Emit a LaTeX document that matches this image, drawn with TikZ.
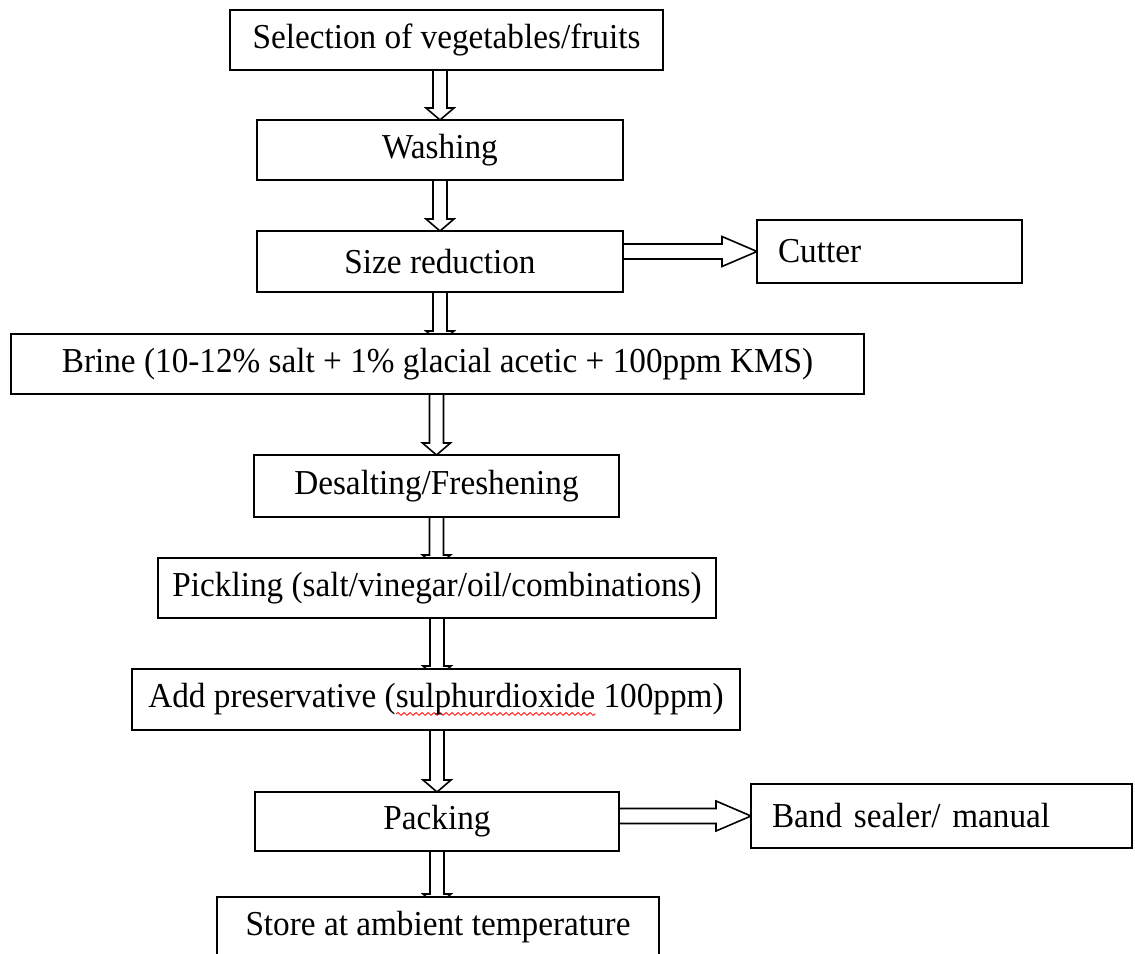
\documentclass[tikz,border=0pt]{standalone}
\usepackage{fontspec}
\setmainfont[FakeStretch=0.95]{Liberation Serif}
\usetikzlibrary{calc,backgrounds,decorations.pathmorphing}

% red spell-check wave under a word
\newsavebox{\wavebox}
\newcommand{\redwave}[1]{\sbox{\wavebox}{#1}%
  \rlap{\tikz[baseline=0pt, x=1pt, y=1pt]\draw[red, line width=0.4pt, decorate,
    decoration={snake, amplitude=0.7pt, segment length=3pt}] (0,-3.2) -- (\wd\wavebox,-3.2);}%
  \usebox{\wavebox}}

\tikzset{
  stepbox/.style={draw, line width=0.9pt, fill=white, inner sep=0pt, outer sep=0pt,
    minimum height=30pt, font=\fontsize{17.5}{21}\selectfont},
  sidebox/.style={stepbox, align=left, inner xsep=10.5pt},
  blockarrow/.style={draw, line width=0.8pt, fill=white, line join=miter},
}

% hollow block arrows: start point, tip
\newcommand{\flowdown}[2]{%
  \draw[blockarrow] let \p1=#1, \p2=#2 in
    (\x1-3.5pt,\y1) -- (\x1-3.5pt,\y2+6pt) -- (\x1-7pt,\y2+6pt) -- (\x1,\y2)
    -- (\x1+7pt,\y2+6pt) -- (\x1+3.5pt,\y2+6pt) -- (\x1+3.5pt,\y1);
}
\newcommand{\flowright}[2]{%
  \draw[blockarrow] let \p1=#1, \p2=#2 in
    (\x1,\y2+3.75pt) -- (\x2-17.5pt,\y2+3.75pt) -- (\x2-17.5pt,\y2+7.5pt) -- (\x2,\y2)
    -- (\x2-17.5pt,\y2-7.5pt) -- (\x2-17.5pt,\y2-3.75pt) -- (\x1,\y2-3.75pt);
}

\begin{document}
\begin{tikzpicture}[x=0.5pt, y=-0.5pt]
\useasboundingbox (0,0) rectangle (1135,953);

% process steps
\node[stepbox, minimum width=216.5pt] (sel) at (446.5,40) {Selection of vegetables/fruits};
\node[stepbox, minimum width=183pt] (wash) at (440,150) {Washing};
\node[stepbox, minimum width=183pt, minimum height=30.5pt] (size) at (440,261.5) {Size reduction};
\node[sidebox, text width=111.5pt, minimum height=31.5pt] (cutter) at (889.5,251.5) {Cutter};
\node[stepbox, minimum width=426.5pt] (brine) at (437.5,364) {Brine (10-12\% salt + 1\% glacial acetic + 100ppm KMS)};
\node[stepbox, minimum width=182.5pt, minimum height=31pt] (desalt) at (436.5,486) {Desalting/Freshening};
\node[stepbox, minimum width=279pt] (pickle) at (437,588) {Pickling (salt/vinegar/oil/combinations)};
\node[stepbox, minimum width=304pt, minimum height=30.5pt] (addpres) at (436,699.5) {Add preservative (\redwave{sulphurdioxide} 100ppm)};
\node[stepbox, minimum width=182pt, minimum height=29.5pt] (packing) at (437,821.5) {Packing};
\node[sidebox, text width=169.5pt, minimum height=32pt] (band) at (941.5,816) {Band sealer/ manual};
\node[stepbox, minimum width=221pt] (store) at (438,927) {Store at ambient temperature};

% arrows
\begin{scope}[on background layer]
  \flowdown{(wash.north |- sel.south)}{(wash.north)}
  \flowdown{(size.north |- wash.south)}{(size.north)}
  \flowdown{(size.south)}{($(size.south |- brine.north)+(0,-4.5pt)$)}
  \flowdown{(desalt.north |- brine.south)}{(desalt.north)}
  \flowdown{(desalt.south)}{($(desalt.south |- pickle.north)+(0,-4.5pt)$)}
  \flowdown{(pickle.south)}{($(pickle.south |- addpres.north)+(0,-4.5pt)$)}
  \flowdown{(packing.north |- addpres.south)}{(packing.north)}
  \flowdown{(packing.south)}{($(packing.south |- store.north)+(0,-4.5pt)$)}
  \flowright{(size.east |- cutter.west)}{(cutter.west)}
  \flowright{(packing.east |- band.west)}{(band.west)}
\end{scope}
\end{tikzpicture}
\end{document}
